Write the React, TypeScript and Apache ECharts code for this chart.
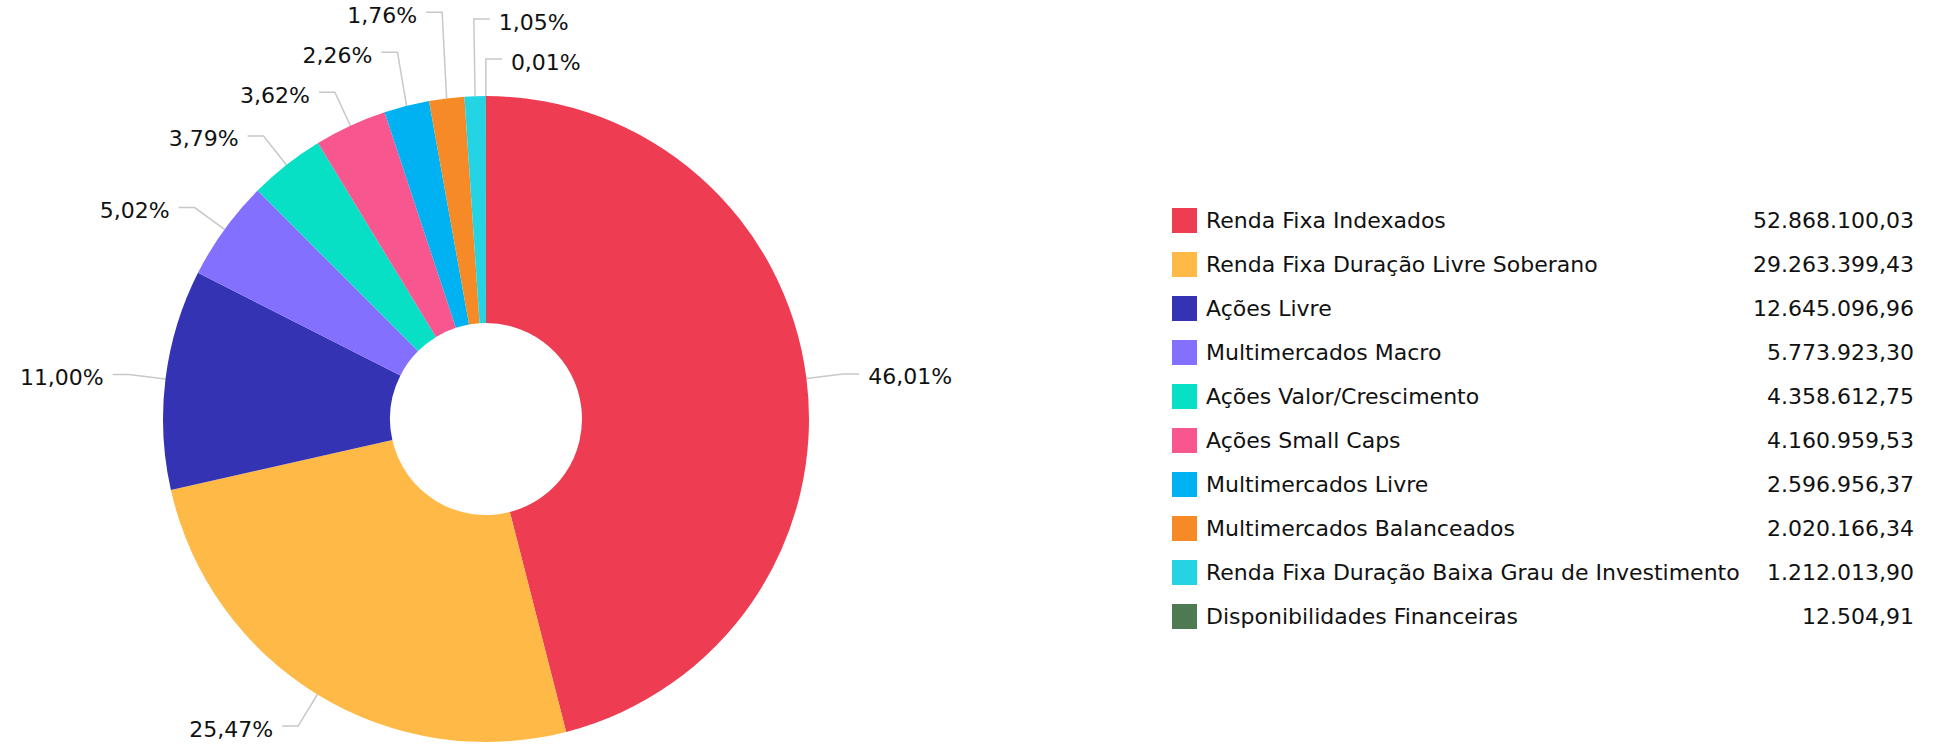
import React, { useEffect, useRef } from "react";
import * as echarts from "echarts";

const categories = [
  "Renda Fixa Indexados",
  "Renda Fixa Duração Livre Soberano",
  "Ações Livre",
  "Multimercados Macro",
  "Ações Valor/Crescimento",
  "Ações Small Caps",
  "Multimercados Livre",
  "Multimercados Balanceados",
  "Renda Fixa Duração Baixa Grau de Investimento",
  "Disponibilidades Financeiras",
];

const values = [
  52868100.03, 29263399.43, 12645096.96, 5773923.3, 4358612.75, 4160959.53,
  2596956.37, 2020166.34, 1212013.9, 12504.91,
];

const colors = [
  "#EE3D52",
  "#FFB946",
  "#3333B3",
  "#8470FF",
  "#08E0C6",
  "#F7568E",
  "#00B2F2",
  "#F58A26",
  "#25D4E4",
  "#4E7A52",
];

// pie geometry
const CX = 486;
const CY = 419;
const R_IN = 96;
const R_OUT = 323;
// label connector geometry
const R_BREAK = 360;
const SEG = 16;
const GAP = 9;
const LINE_H = 40;
const TOP_RIGHT_DEG = 4;

function fmtBR(v: number): string {
  const [intPart, dec] = v.toFixed(2).split(".");
  const withDots = intPart.replace(/\B(?=(\d{3})+(?!\d))/g, ".");
  return withDots + "," + dec;
}

function computeLabelGeometry() {
  const total = values.reduce((a, b) => a + b, 0);
  const signed: number[] = [];
  let acc = 0;
  values.forEach((v) => {
    const m = ((acc + v / 2) / total) * 2 * Math.PI;
    signed.push(m > Math.PI ? m - 2 * Math.PI : m);
    acc += v;
  });
  const thr = (TOP_RIGHT_DEG * Math.PI) / 180;
  const side = signed.map((t) => (t >= 0 || Math.abs(t) < thr ? 1 : -1));
  const natX = signed.map((t) => CX + Math.sin(t) * R_BREAK);
  const natY = signed.map((t) => CY - Math.cos(t) * R_BREAK);
  const finalY = natY.slice();
  [1, -1].forEach((s) => {
    const idx = signed.map((_, i) => i).filter((i) => side[i] === s);
    idx.sort((a, b) => (s > 0 ? signed[a] - signed[b] : signed[b] - signed[a]));
    for (let k = idx.length - 2; k >= 0; k--) {
      const i = idx[k];
      const j = idx[k + 1];
      if (natY[i] < CY) finalY[i] = Math.min(finalY[i], finalY[j] - LINE_H);
    }
    for (let k = 1; k < idx.length; k++) {
      const i = idx[k];
      const j = idx[k - 1];
      if (natY[i] >= CY) finalY[i] = Math.max(finalY[i], finalY[j] + LINE_H);
    }
  });
  const percents = values.map((v) => ((v / total) * 100).toFixed(2).replace(".", ","));
  return { signed, side, natX, finalY, percents };
}

export default function App() {
  const ref = useRef<HTMLDivElement>(null);
  useEffect(() => {
    if (!ref.current) return;
    const chart = echarts.init(ref.current, undefined, { renderer: "svg" });
    const valueByName: Record<string, number> = {};
    categories.forEach((c, i) => (valueByName[c] = values[i]));
    const g = computeLabelGeometry();
    chart.setOption({
      animation: false,
      color: colors,
      textStyle: { fontFamily: "DejaVu Sans" },
      legend: {
        orient: "vertical",
        left: 1172,
        top: 208,
        padding: 0,
        itemWidth: 25,
        itemHeight: 25,
        itemGap: 19,
        icon: "rect",
        selectedMode: false,
        data: categories,
        formatter: (name: string) => `{n|${name}}{v|${fmtBR(valueByName[name])}}`,
        textStyle: {
          rich: {
            n: {
              fontFamily: "DejaVu Sans",
              fontSize: 22,
              color: "#111",
              width: 545,
              padding: [0, 0, 0, 4],
            },
            v: {
              fontFamily: "DejaVu Sans",
              fontSize: 22,
              color: "#111",
              width: 163,
              align: "right",
            },
          },
        },
      },
      series: [
        {
          type: "pie",
          center: [CX, CY],
          radius: [R_IN, R_OUT],
          startAngle: 90,
          clockwise: true,
          avoidLabelOverlap: false,
          label: {
            show: true,
            position: "outside",
            fontFamily: "DejaVu Sans",
            fontSize: 22,
            color: "#111",
            formatter: (p: any) => g.percents[p.dataIndex] + "%",
          },
          labelLine: {
            show: true,
            length: 32,
            length2: 16,
            lineStyle: { color: "#c8c8c8", width: 1.5 },
          },
          labelLayout: (p: any) => {
            const i = p.dataIndex;
            const s = g.side[i];
            const t = g.signed[i];
            const tx = CX + Math.sin(t) * R_OUT;
            const ty = CY - Math.cos(t) * R_OUT;
            const bx = g.natX[i];
            const by = g.finalY[i];
            const ex = bx + s * SEG;
            return {
              x: ex + s * GAP,
              y: by + 3,
              align: s > 0 ? "left" : "right",
              verticalAlign: "middle",
              labelLinePoints: [
                [tx, ty],
                [bx, by],
                [ex, by],
              ],
            };
          },
          emphasis: { disabled: true },
          data: categories.map((c, i) => ({ name: c, value: values[i] })),
        },
      ],
    });
    return () => chart.dispose();
  }, []);
  return (
    <div
      ref={ref}
      style={{ position: "absolute", left: 0, top: 0, width: 1941, height: 746 }}
    />
  );
}
